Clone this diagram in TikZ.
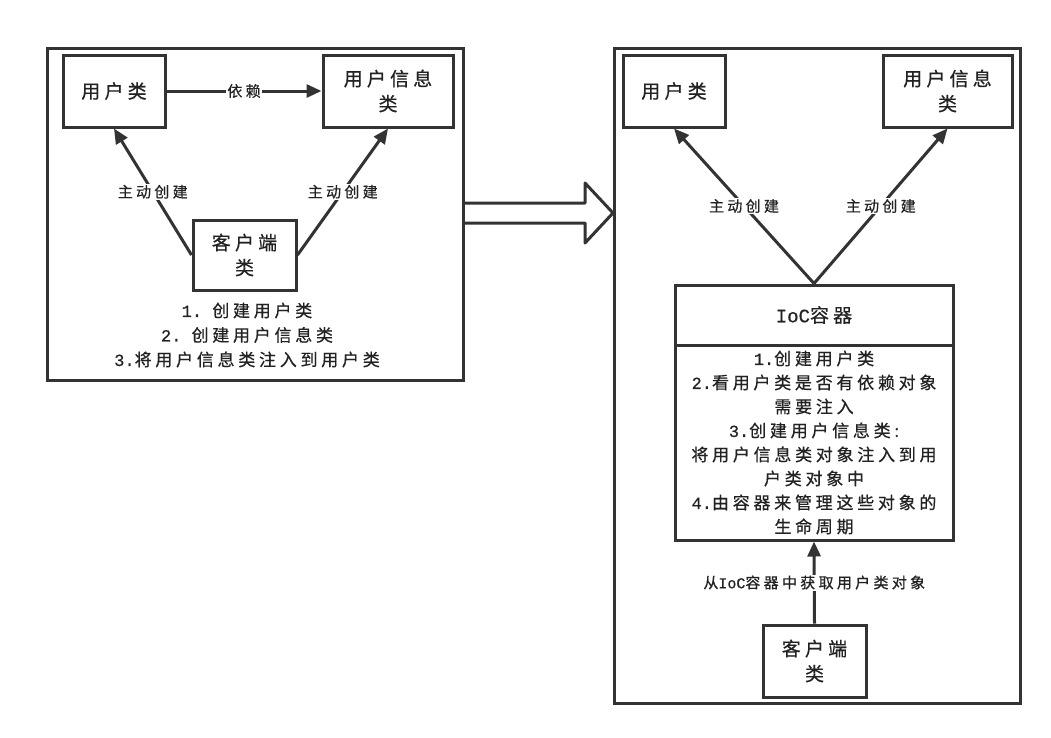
\documentclass[tikz,border=0pt]{standalone}
\usepackage{fontspec}
\setmainfont{Noto Sans CJK SC}[LetterSpace=22,FakeBold=0.6]
\newfontfamily\latmono{Liberation Mono}[FakeBold=0.6]
\newcommand{\lt}[1]{{\latmono #1}}
\usetikzlibrary{arrows.meta}

\definecolor{lineGray}{HTML}{333333}
\definecolor{textGray}{HTML}{222222}

\tikzset{every picture/.style={line width=3pt}}
\tikzset{
  classbox/.style={draw=lineGray, line width=3pt, fill=white, align=center, inner sep=0pt,
    text=textGray, font=\fontsize{19}{25}\selectfont},
  frame/.style={draw=lineGray, line width=3pt},
  arr/.style={draw=lineGray, line width=3pt, -{Triangle[length=15pt,width=13pt]}},
  lbl/.style={fill=white, inner sep=1pt, text=textGray, font=\fontsize{15}{18}\selectfont},
  notes/.style={align=center, text=textGray, font=\fontsize{17}{24.5}\selectfont}
}

\begin{document}
\begin{tikzpicture}[x=1pt,y=1pt,yscale=-1,xscale=1]
\useasboundingbox (0,0) rectangle (1051,737);

%Left frame
\draw[frame] (47,48) rectangle (463,380);

\node[classbox, minimum width=102, minimum height=72] (userL) at (114,91) {用户类};
\node[classbox, minimum width=130, minimum height=72] (infoL) at (388,91) {用户信息\\类};
\node[classbox, minimum width=103, minimum height=70] (clientL) at (244.5,255) {客户端\\类};

\draw[arr] (userL.east) -- (infoL.west) node[lbl, midway] {依赖};
\draw[arr] (clientL.west) -- (userL.south) node[lbl, midway] {主动创建};
\draw[arr] (clientL.east) -- (infoL.south) node[lbl, midway] {主动创建};

\node[notes] (stepsL) at (247,335) {\lt{1.\ }创建用户类\\\lt{2.\ }创建用户信息类\\\lt{3.}将用户信息类注入到用户类};

%Hollow arrow between frames
\draw[frame, line join=round] (463,203) -- (585,203) -- (585,183) -- (613,213) -- (585,243) -- (585,223) -- (463,223);

%Right frame
\draw[frame] (614,48) rectangle (1020,703);

\node[classbox, minimum width=102, minimum height=72] (userR) at (674,91) {用户类};
\node[classbox, minimum width=129, minimum height=72] (infoR) at (947.5,91) {用户信息\\类};

\node[classbox, minimum width=278, minimum height=60] (iocTitle) at (814,315) {\lt{IoC}容器};
\node[classbox, minimum width=278, minimum height=195, font=\fontsize{17}{24}\selectfont] (iocBody) at (814,442.5)
  {\lt{1.}创建用户类\\\lt{2.}看用户类是否有依赖对象\\需要注入\\\lt{3.}创建用户信息类:\\将用户信息类对象注入到用\\户类对象中\\\lt{4.}由容器来管理这些对象的\\生命周期};

\draw[arr] (iocTitle.north) -- (userR.south) node[lbl, midway] {主动创建};
\draw[arr] (iocTitle.north) -- (infoR.south) node[lbl, midway] {主动创建};

\node[classbox, minimum width=103, minimum height=72] (clientR) at (814.5,661) {客户端\\类};
\draw[arr] (clientR.north) -- (iocBody.south) node[lbl, midway] {从\lt{IoC}容器中获取用户类对象};

\end{tikzpicture}
\end{document}
